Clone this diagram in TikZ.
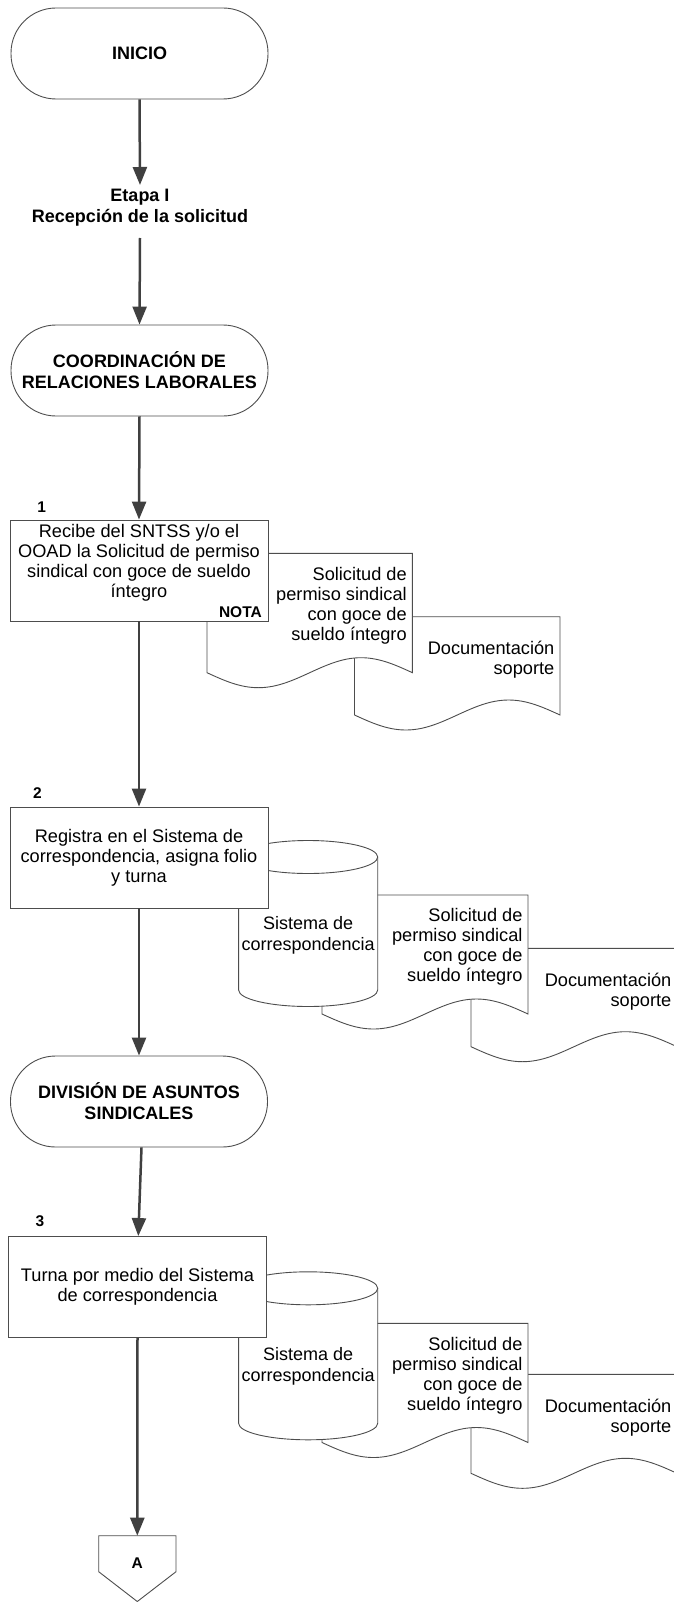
\documentclass[tikz,border=0pt]{standalone}
\usepackage{fontspec}
\setmainfont{Liberation Sans}
\usetikzlibrary{arrows.meta,calc}
\definecolor{arrcol}{HTML}{404040}
\definecolor{edgecol}{HTML}{4D4D4D}
\newcommand\docshape[4]{%
  \path[shp] (#1,#3) -- (#2,#3) -- (#2,#4)
    sin ({#2-(#2-#1)/4},{#4-15}) cos ({(#1+#2)/2},#4)
    sin ({#1+(#2-#1)/4},{#4+15}) cos (#1,#4) -- cycle;}
\newcommand\cylshape[4]{%
  \path[shp] (#1,#3) -- (#1,#4)
    .. controls (#1,{#4+9.11}) and ({(#1+#2)/2-0.5523*(#2-#1)/2},{#4+16.5}) .. ({(#1+#2)/2},{#4+16.5})
    .. controls ({(#1+#2)/2+0.5523*(#2-#1)/2},{#4+16.5}) and (#2,{#4+9.11}) .. (#2,#4)
    -- (#2,#3) -- cycle;
  \path[shp] ({(#1+#2)/2},#3) ellipse [x radius={(#2-#1)/2}, y radius=16.5];}
\begin{document}
\begin{tikzpicture}[x=1pt,y=-1pt,
  every node/.style={font=\fontsize{18.2}{20}\selectfont, inner sep=0pt},
  boldtxt/.style={font=\fontsize{18}{21}\selectfont\bfseries},
  smallbold/.style={font=\fontsize{15.5}{18}\selectfont\bfseries},
  term/.style={draw=edgecol, line width=0.9pt, fill=white, rectangle, rounded corners=45pt,
    minimum width=257pt, minimum height=91pt, align=center, boldtxt},
  procbox/.style={draw=edgecol, line width=0.9pt, fill=white, rectangle,
    minimum width=258pt, minimum height=101pt},
  shp/.style={draw=edgecol, line width=0.9pt, fill=white},
  flow/.style={draw=arrcol, line width=2.5pt},
  arr/.style={flow, -{Triangle[length=18pt,width=14pt]}},
]
\useasboundingbox (0,0) rectangle (673,1602);

% terminators
\node[term] (T0) at (139.5,53.5) {INICIO};
\node[boldtxt, align=center] (etapa) at (140,208) {Etapa I\\Recepción de la solicitud};
\coordinate (etapaIn) at (140,185);
\coordinate (etapaOut) at (140,238);
\node[term] (T1) at (139.5,370.5) {COORDINACIÓN DE\\RELACIONES LABORALES};

% section 1
\docshape{354.5}{560}{616.7}{715}
\node[anchor=east, align=right] (D1bt) at (554.5,659.5) {Documentación\\soporte};
\docshape{207}{412.4}{553.3}{672.7}
\node[anchor=east, align=right] (D1at) at (406.9,606) {Solicitud de\\permiso sindical\\con goce de\\sueldo íntegro};
\node[procbox] (B1) at (139,570.5) {};
\node[align=center] (B1t) at (139,563) {Recibe del SNTSS y/o el\\OOAD la Solicitud de permiso\\sindical con goce de sueldo\\íntegro};
\node[smallbold, anchor=east] (nota) at (262,612) {NOTA};
\node[smallbold] (n1) at (41.6,507) {1};

% section 2
\docshape{471}{677}{948.3}{1046.7}
\node[anchor=east, align=right] (D2bt) at (671.5,991.5) {Documentación\\soporte};
\docshape{322}{528}{895}{1014}
\node[anchor=east, align=right] (D2at) at (522.7,946.6) {Solicitud de\\permiso sindical\\con goce de\\sueldo íntegro};
\cylshape{238.6}{377.7}{857}{990}
\node[align=center, font=\fontsize{18}{21}\selectfont] (C2t) at (308.2,935) {Sistema de\\correspondencia};
\node[procbox] (B2) at (139,857.5) {};
\node[align=center] (B2t) at (139,857.5) {Registra en el Sistema de\\correspondencia, asigna folio\\y turna};
\node[smallbold] (n2) at (37.5,793) {2};

\node[term] (T2) at (139,1101.5) {DIVISIÓN DE ASUNTOS\\SINDICALES};

% section 3
\docshape{471}{677}{1374.3}{1473.3}
\node[anchor=east, align=right] (D3bt) at (671.5,1417.5) {Documentación\\soporte};
\docshape{322}{528}{1323.3}{1442.5}
\node[anchor=east, align=right] (D3at) at (522.7,1375.8) {Solicitud de\\permiso sindical\\con goce de\\sueldo íntegro};
\cylshape{238.6}{377.7}{1288.3}{1423.3}
\node[align=center, font=\fontsize{18}{21}\selectfont] (C3t) at (308.2,1366.7) {Sistema de\\correspondencia};
\node[procbox] (B3) at (137.5,1287) {};
\node[align=center] (B3t) at (137.5,1287) {Turna por medio del Sistema\\de correspondencia};
\node[smallbold] (n3) at (40,1221.5) {3};

% off-page connector
\coordinate (Atop) at (137.3,1535.7);
\path[shp] (98.7,1535.7) -- (176,1535.7) -- (176,1571.7) -- (137.3,1601.5) -- (98.7,1571.7) -- cycle;
\node[smallbold] (A) at (137.3,1563) {A};

% connectors
\draw[arr] (T0.south) -- (etapaIn);
\draw[arr] (etapaOut) -- (T1.north);
\draw[arr] (T1.south) -- (B1.north);
\draw[arr] (B1.south) -- (B2.north);
\draw[arr] (B2.south) -- (T2.north);
\draw[arr] ($(T2.south)+(2.5,0)$) -- ($(B3.north)+(0.8,0)$);
\draw[arr] (B3.south) -- (Atop);
\end{tikzpicture}
\end{document}
